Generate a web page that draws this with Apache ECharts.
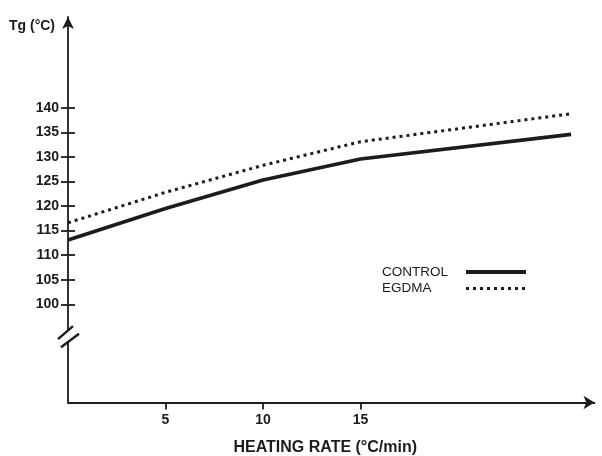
<!DOCTYPE html>
<html>
<head>
<meta charset="utf-8">
<script src="https://cdn.jsdelivr.net/npm/echarts@6/dist/echarts.min.js"></script>
<style>html,body{margin:0;padding:0;background:#fff}#c{width:602px;height:456px}</style>
</head>
<body>
<div id="c"></div>
<script>
// Data
var heatingRate = [0, 5, 10, 15, 25.8];
var controlTg = [113.1, 119.5, 125.3, 129.6, 134.6];
var egdmaTg = [116.6, 122.8, 128.3, 133.1, 138.8];
var yTickValues = [100, 105, 110, 115, 120, 125, 130, 135, 140];
var xTickValues = [5, 10, 15];
var seriesNames = ['CONTROL', 'EGDMA'];
var yTitle = 'Tg (°C)';
var xTitle = 'HEATING RATE (°C/min)';
var breakValue = 93.6;

function pairs(xs, ys) { return xs.map(function (x, i) { return [x, ys[i]]; }); }

var ink = '#1c1c1c';
var font = '"Liberation Sans", Arial, Helvetica, sans-serif';
var chart = echarts.init(document.getElementById('c'), null, { renderer: 'canvas' });

var option = {
  animation: false,
  backgroundColor: '#fff',
  textStyle: { fontFamily: font },
  title: {
    text: yTitle, left: 9, top: 19, padding: 0,
    textStyle: { fontSize: 14, fontWeight: 'bold', color: ink, fontFamily: font }
  },
  legend: {
    orient: 'vertical', left: 382, top: 265, padding: 0,
    align: 'right', itemWidth: 60, itemHeight: 14, itemGap: 2.6,
    data: [
      { name: seriesNames[0], lineStyle: { width: 4, type: 'solid' } },
      { name: seriesNames[1], lineStyle: { width: 3, type: [3, 4] } }
    ],
    itemStyle: { opacity: 0 },
    formatter: '{t|{name}}',
    textStyle: {
      fontSize: 13.5, color: ink, fontFamily: font,
      rich: { t: { width: 79, align: 'left', fontSize: 13.5, color: ink, fontFamily: font } }
    }
  },
  grid: { left: 68, right: 7.5, top: 17, bottom: 53.5, containLabel: false, outerBoundsMode: 'none' },
  xAxis: {
    type: 'value', min: 0, max: 27,
    name: xTitle, nameLocation: 'middle', nameGap: 37,
    nameTextStyle: { fontSize: 16, fontWeight: 'bold', color: ink, padding: [0, 12, 0, 0], fontFamily: font },
    axisLine: { show: true, symbol: ['none', 'arrow'], symbolSize: [10, 11], lineStyle: { color: ink, width: 1.8 } },
    axisTick: { show: true, inside: false, length: 7, customValues: xTickValues, lineStyle: { color: ink, width: 1.8 } },
    axisLabel: { show: true, customValues: xTickValues, margin: 11, fontSize: 14, fontWeight: 'bold', color: ink, fontFamily: font },
    splitLine: { show: false }
  },
  yAxis: [{
    type: 'value', min: 80, max: 158.5,
    axisLine: { show: true, symbol: ['none', 'arrow'], symbolSize: [9, 12], lineStyle: { color: ink, width: 1.8 } },
    axisTick: { show: true, inside: false, length: 7, customValues: yTickValues, lineStyle: { color: ink, width: 1.8 } },
    axisLabel: { show: true, customValues: yTickValues, margin: 9, fontSize: 14, fontWeight: 'bold', color: ink, fontFamily: font },
    splitLine: { show: false }
  }, {
    type: 'value', min: 80, max: 158.5, position: 'left', offset: 0,
    axisLine: { show: false },
    axisTick: { show: true, inside: true, length: 7, customValues: yTickValues, lineStyle: { color: ink, width: 1.8 } },
    axisLabel: { show: false },
    splitLine: { show: false }
  }],
  series: [{
    name: seriesNames[0], type: 'line', symbol: 'none', smooth: false,
    data: pairs(heatingRate, controlTg),
    color: ink,
    lineStyle: { color: ink, width: 3.6, type: 'solid' }
  }, {
    name: seriesNames[1], type: 'line', symbol: 'none', smooth: false,
    data: pairs(heatingRate, egdmaTg),
    color: ink,
    lineStyle: { color: ink, width: 3, type: [3, 4] }
  }]
};
chart.setOption(option);

// axis break mark ("//") on the y axis
var ax = chart.convertToPixel({ xAxisIndex: 0 }, 0);
var by = chart.convertToPixel({ yAxisIndex: 0 }, breakValue);
chart.setOption({
  graphic: [
    { type: 'rect', shape: { x: ax - 3, y: by - 5.5, width: 6, height: 11 }, style: { fill: '#fff' }, z: 100 },
    { type: 'line', shape: { x1: ax - 10, y1: by + 3.5, x2: ax + 5, y2: by - 9.5 }, style: { stroke: ink, lineWidth: 2.4 }, z: 101 },
    { type: 'line', shape: { x1: ax - 7, y1: by + 11.5, x2: ax + 11, y2: by - 2 }, style: { stroke: ink, lineWidth: 2.4 }, z: 101 }
  ]
});
</script>
</body>
</html>
